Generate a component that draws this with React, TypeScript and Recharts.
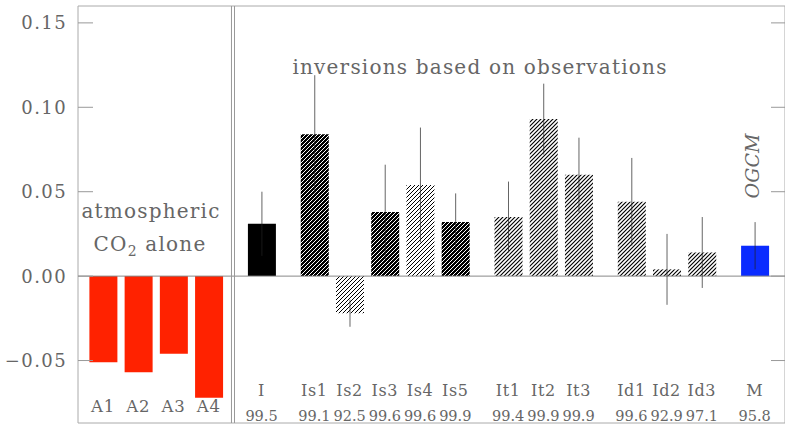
import React from 'react';
import { BarChart, Bar, XAxis, YAxis, ReferenceLine, ReferenceArea, ErrorBar, Cell } from 'recharts';

// ---- data ----
const groups: string[][] = [
  ['A1', 'A2', 'A3', 'A4'],
  ['I'],
  ['Is1', 'Is2', 'Is3', 'Is4', 'Is5'],
  ['It1', 'It2', 'It3'],
  ['Id1', 'Id2', 'Id3'],
  ['M'],
];
const values = [
  -0.051, -0.057, -0.046, -0.072,
  0.031,
  0.084, -0.022, 0.038, 0.054, 0.032,
  0.035, 0.093, 0.060,
  0.044, 0.004, 0.014,
  0.018,
];
const errors: (number | null)[] = [
  null, null, null, null,
  0.019,
  0.035, 0.008, 0.028, 0.034, 0.017,
  0.021, 0.021, 0.022,
  0.026, 0.021, 0.021,
  0.014,
];
const confidence = [
  '', '', '', '',
  '99.5',
  '99.1', '92.5', '99.6', '99.6', '99.9',
  '99.4', '99.9', '99.9',
  '99.6', '92.9', '97.1',
  '95.8',
];
const yTicks = [-0.05, 0, 0.05, 0.1, 0.15];
const yTickLabels = ['\u22120.05', '0.00', '0.05', '0.10', '0.15'];
const yDomain: [number, number] = [-0.087, 0.16];

// ---- layout helpers ----
type Row = { name: string; slot: number; value: number; err: number | null; conf: string };
const rows: Row[] = [];
{
  let s = 0;
  let i = 0;
  groups.forEach((g, gi) => {
    if (gi > 0) s += 0.5;
    g.forEach((name) => {
      rows.push({ name, slot: s, value: values[i], err: errors[i], conf: confidence[i] });
      s += 1;
      i += 1;
    });
  });
}
const slots = rows.map((r) => r.slot);
const xDomain: [number, number] = [-0.71, 19.36];
const divider = 3.69;

const FONT = 'DejaVu Serif';
const TXT = '#666';

function fillFor(name: string): string {
  if (name.startsWith('A')) return '#ff2200';
  if (name === 'I') return '#000000';
  if (name === 'M') return '#0a2bff';
  if (name === 'Is1' || name === 'Is3' || name === 'Is5') return 'url(#hDark)';
  if (name === 'Is2' || name === 'Is4') return 'url(#hLight)';
  return 'url(#hMid)';
}

const XTick = (props: any) => {
  const { x, y, payload } = props;
  const row = rows.find((r) => r.slot === payload.value);
  if (!row) return null;
  if (row.name.startsWith('A')) {
    return (
      <text x={x} y={y - 11} textAnchor="middle" fontFamily={FONT} fontSize={16.5} fill={TXT} letterSpacing={0.8}>
        {row.name}
      </text>
    );
  }
  return (
    <g>
      <text x={x} y={y - 27} textAnchor="middle" fontFamily={FONT} fontSize={16} fill={TXT} letterSpacing={0.6}>
        {row.name}
      </text>
      <text x={x} y={y - 2} textAnchor="middle" fontFamily={FONT} fontSize={14.5} fill={TXT}>
        {row.conf}
      </text>
    </g>
  );
};

const YTickL = (props: any) => {
  const { x, y, payload } = props;
  const idx = yTicks.indexOf(payload.value);
  return (
    <g>
      <line x1={x} x2={x + 15} y1={y} y2={y} stroke="#999" strokeWidth={1} />
      <text x={x - 11} y={y} dy="0.36em" textAnchor="end" fontFamily={FONT} fontSize={18} letterSpacing={1.4} fill={TXT}>
        {yTickLabels[idx]}
      </text>
    </g>
  );
};

const YTickR = (props: any) => {
  const { x, y } = props;
  return <line x1={x - 14} x2={x} y1={y} y2={y} stroke="#999" strokeWidth={1} />;
};

export default function App() {
  return (
    <div style={{ position: 'absolute', left: 0, top: 0, width: 785, height: 428, background: '#fff', overflow: 'hidden' }}>
      <BarChart width={786} height={428} data={rows} margin={{ top: 6, right: 0, bottom: 4, left: 0 }}>
        <defs>
          <pattern id="hDark" patternUnits="userSpaceOnUse" width="4" height="4">
            <rect width="4" height="4" fill="#000" />
            <path d="M-1,1 l2,-2 M0,4 l4,-4 M3,5 l2,-2" stroke="#fff" strokeWidth="1.0" />
          </pattern>
          <pattern id="hLight" patternUnits="userSpaceOnUse" width="4" height="4">
            <rect width="4" height="4" fill="#fff" />
            <path d="M-1,1 l2,-2 M0,4 l4,-4 M3,5 l2,-2" stroke="#000" strokeWidth="1.0" />
          </pattern>
          <pattern id="hMid" patternUnits="userSpaceOnUse" width="4" height="4">
            <rect width="4" height="4" fill="#fff" />
            <path d="M-1,1 l2,-2 M0,4 l4,-4 M3,5 l2,-2" stroke="#000" strokeWidth="1.15" />
          </pattern>
        </defs>
        <XAxis
          dataKey="slot"
          type="number"
          domain={xDomain}
          allowDataOverflow
          ticks={slots}
          interval={0}
          height={1}
          tickSize={0}
          tickMargin={0}
          axisLine={false}
          tickLine={false}
          tick={XTick}
        />
        <YAxis
          yAxisId="l"
          domain={yDomain}
          allowDataOverflow
          ticks={yTicks}
          interval={0}
          width={78}
          tickSize={0}
          tickMargin={0}
          axisLine={false}
          tickLine={false}
          tick={YTickL}
        />
        <YAxis
          yAxisId="r"
          orientation="right"
          domain={yDomain}
          allowDataOverflow
          ticks={yTicks}
          interval={0}
          width={1}
          tickSize={0}
          tickMargin={0}
          axisLine={false}
          tickLine={false}
          tick={YTickR}
        />
        <ReferenceArea
          yAxisId="l"
          x1={xDomain[0]}
          x2={xDomain[1]}
          y1={yDomain[0]}
          y2={yDomain[1]}
          fill="none"
          stroke="#aaa"
          strokeWidth={1}
          ifOverflow="visible"
        />
        <ReferenceLine yAxisId="l" y={0} stroke="#888" strokeWidth={1} />
        <ReferenceLine yAxisId="l" x={divider - 0.043} stroke="#999" strokeWidth={1} />
        <ReferenceLine yAxisId="l" x={divider + 0.043} stroke="#999" strokeWidth={1} />
        <Bar yAxisId="l" dataKey="value" barSize={28} isAnimationActive={false}>
          {rows.map((r) => (
            <Cell key={r.name} fill={fillFor(r.name)} />
          ))}
          <ErrorBar dataKey="err" width={0} stroke="#222" strokeWidth={0.7} direction="y" isAnimationActive={false} />
        </Bar>
        <text x={480} y={74} textAnchor="middle" fontFamily={FONT} fontSize={20} letterSpacing={1.2} fill={TXT}>
          inversions based on observations
        </text>
        <text x={151} y={218} textAnchor="middle" fontFamily={FONT} fontSize={20} letterSpacing={1.2} fill={TXT}>
          atmospheric
        </text>
        <text x={150} y={251} textAnchor="middle" fontFamily={FONT} fontSize={20} letterSpacing={1.2} fill={TXT}>
          CO
          <tspan fontSize={14} dy={5}>2</tspan>
          <tspan dy={-5}> alone</tspan>
        </text>
        <text
          transform="translate(752.5,166) rotate(-90)"
          x={0}
          y={0}
          dy="0.36em"
          textAnchor="middle"
          fontFamily={FONT}
          fontStyle="italic"
          fontSize={19}
          fill={TXT}
        >
          OGCM
        </text>
      </BarChart>
    </div>
  );
}
